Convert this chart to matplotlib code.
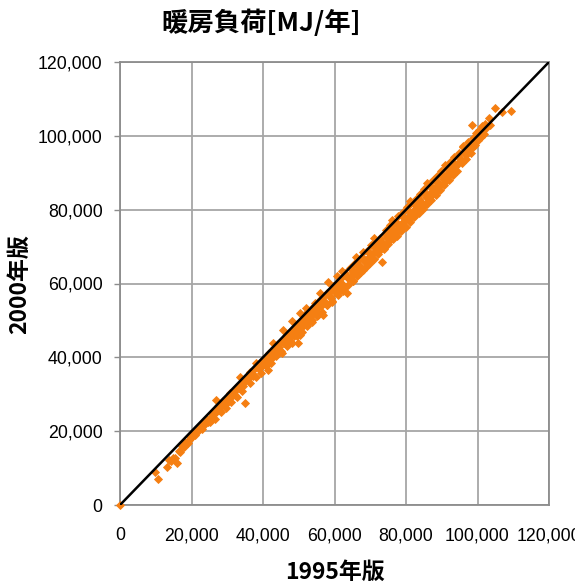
import matplotlib
matplotlib.use("Agg")
import matplotlib.pyplot as plt
from matplotlib.ticker import FuncFormatter, MultipleLocator

# Annual heating load [MJ/year]: 1995 edition (x) vs 2000 edition (y)
load_1995 = [
    0, 9800, 10600, 13100, 13800, 14200, 14800, 15300, 15900, 16400,
    16900, 17400, 17900, 18500, 19000, 19600, 20100, 20600, 21000, 21500,
    21900, 22400, 22800, 23300, 23700, 24200, 24600, 25100, 25500, 26000,
    26800, 26900, 27400, 27800, 28300, 28700, 29200, 29600, 30100, 30500,
    30900, 31400, 31800, 32300, 32700, 33200, 33600, 34100, 34500, 35000,
    35400, 35900, 36300, 36800, 37200, 37700, 38100, 38600, 39000, 39500,
    39900, 40300, 40700, 41100, 41400, 41800, 42200, 42600, 43000, 43400,
    43800, 44200, 44600, 45000, 45600, 45900, 46300, 46700, 47100, 47500,
    48100, 48400, 48800, 49200, 49800, 50000, 50400, 50400, 50800, 51200,
    51600, 52000, 52400, 52800, 53200, 53600, 54000, 54500, 54900, 55300,
    55700, 56100, 56800, 57000, 57400, 57800, 58200, 58500, 58900, 59300,
    59700, 60100, 60700, 61000, 61400, 61800, 62200, 62600, 63000, 63500,
    63900, 64300, 64700, 65100, 65500, 65900, 66300, 66700, 67100, 67500,
    68000, 68300, 68700, 69100, 69500, 69900, 70300, 70700, 71100, 71500,
    71900, 72300, 72700, 73300, 73500, 73900, 74300, 74700, 75100, 75500,
    75900, 76300, 76700, 77100, 77500, 77900, 78300, 78700, 79100, 79500,
    79900, 80300, 80700, 81100, 81500, 81900, 82300, 82700, 83100, 83500,
    83900, 84300, 84700, 85100, 85500, 85900, 86300, 86700, 87100, 87500,
    87900, 88300, 88700, 89100, 89500, 89900, 90300, 90700, 91100, 91500,
    91900, 92300, 92700, 93100, 93500, 93900, 94300, 94700, 95100, 95700,
    96000, 96400, 96800, 97300, 97700, 98100, 98500, 98800, 99200, 99600,
    100000, 100500, 100900, 101300, 101800, 102200, 103200, 104900, 106800, 109400,
    18200, 19300, 20300, 21200, 22100, 23000, 23900, 24800, 25700, 26400,
    27100, 28000, 28900, 29900, 30700, 31600, 32500, 33400, 34300, 35200,
    36100, 37000, 37900, 38800, 39700, 40500, 41300, 42400, 43200, 44000,
    44900, 45800, 46500, 47300, 48200, 49000, 49600, 50600, 51400, 52200,
    53000, 53800, 54700, 55500, 56300, 57200, 58000, 58800, 59500, 60400,
    61200, 62000, 62800, 63700, 64500, 65300, 66100, 66900, 67800, 68500,
    69300, 70100, 70900, 71700, 72500, 73100, 74000, 74900, 75700, 76500,
    77300, 78100, 78900, 79700, 80500, 81300, 82100, 82900, 83700, 84500,
    85300, 86100, 86900, 87700, 88500, 89300, 90100, 90900, 91700, 92500,
    93300, 94100, 94900, 95500, 96200, 97000, 97900, 98700, 99400, 100200,
    101000, 101600, 102500, 103600,
    25300, 26700, 28200, 29600, 31100, 32600, 34000, 36500, 38000, 39400,
    40900, 42300, 43700, 45200, 46600, 48000, 49400, 50900, 52300, 53700,
    55100, 56600, 58000, 59400, 60900, 62300, 63700, 65200, 66600, 68000,
    69500, 70900, 72400, 73800, 75200, 76600, 78000, 79500, 80900, 82400,
    83800, 85200, 86600, 88000, 89500, 90900, 92400, 93800,
    42900, 52000, 56000, 62000, 66000, 71000, 76000, 81000, 86000, 91000,
    95900,
]
load_2000 = [
    0, 8900, 7000, 10300, 12200, 11900, 12700, 12600, 11400, 14600,
    14300, 16000, 15800, 16700, 16900, 18300, 18300, 19100, 18900, 20500,
    20000, 21100, 20500, 22100, 22000, 23400, 22500, 23700, 22900, 25000,
    28400, 25300, 26700, 25600, 27000, 28300, 27300, 28600, 27900, 29000,
    30300, 29400, 30700, 29700, 31900, 31600, 34700, 32800, 32300, 27600,
    34500, 34100, 35900, 35400, 34900, 37000, 38500, 37000, 38000, 37500,
    39400, 38200, 40200, 39000, 36600, 41300, 40500, 39800, 42600, 41200,
    40900, 43700, 42800, 41600, 47400, 44600, 43500, 46200, 45000, 44300,
    49800, 46900, 45700, 48500, 43900, 47400, 52000, 46000, 49700, 48600,
    51400, 50200, 48900, 52300, 50900, 50000, 53600, 54700, 52600, 51600,
    55200, 53800, 51500, 56600, 55000, 54300, 60400, 57800, 56200, 55300,
    59400, 57800, 62000, 59800, 58300, 61600, 60000, 58900, 62800, 57400,
    61500, 64200, 62100, 60800, 65300, 63400, 62000, 66500, 64800, 63200,
    68500, 66000, 64500, 68800, 67000, 65600, 70400, 68300, 66700, 71600,
    69700, 67900, 72300, 65800, 70900, 69400, 74500, 72200, 70700, 75800,
    73600, 72000, 76400, 74600, 73000, 78200, 75800, 74300, 79300, 77000,
    75400, 80700, 78300, 76600, 81900, 79600, 77900, 82900, 80700, 79000,
    84300, 82100, 80300, 85600, 83300, 81400, 86700, 84500, 82700, 88000,
    85800, 84000, 89000, 86900, 85300, 90500, 88200, 86600, 91600, 89700,
    88000, 92900, 91000, 89300, 94300, 92200, 90600, 95300, 93300, 92600,
    97100, 95000, 93800, 98300, 96300, 95400, 102900, 99400, 97500, 100800,
    98900, 101500, 99700, 102600, 100500, 103300, 104800, 107500, 106400, 106700,
    17000, 17600, 19500, 19800, 21200, 21600, 23100, 23300, 24900, 24600,
    26200, 26600, 28100, 28600, 29700, 30100, 31700, 32000, 33600, 33800,
    35300, 35500, 37200, 37400, 38900, 39100, 40600, 41000, 42300, 42200,
    44200, 44000, 45700, 45400, 47500, 47200, 49100, 48700, 50700, 50300,
    52300, 51800, 54000, 53500, 55700, 55100, 57400, 56700, 58900, 58300,
    60600, 59800, 62200, 61500, 63900, 63000, 65500, 64600, 67200, 66200,
    68700, 67800, 70300, 69300, 71900, 70700, 73400, 72400, 75100, 74000,
    76700, 75500, 78300, 77100, 79800, 78700, 81400, 80300, 83000, 81900,
    84600, 83500, 86200, 85100, 87800, 86800, 89400, 88500, 91000, 90200,
    92600, 91900, 94300, 93500, 95700, 95200, 97500, 97100, 99000, 98800,
    100700, 100400, 102200, 103000,
    22400, 23300, 25300, 26300, 28000, 29200, 30900, 33100, 34700, 35700,
    37600, 38500, 40300, 41200, 43100, 43900, 45800, 46800, 48600, 49500,
    51300, 52300, 54100, 55100, 56900, 57900, 59700, 60800, 62700, 63700,
    65700, 66700, 68700, 69700, 71600, 72600, 74500, 75600, 77500, 78600,
    80500, 81500, 83500, 84500, 86600, 87600, 89700, 90800,
    44000, 53300, 57300, 63300, 67200, 72200, 77200, 82300, 87300, 92100,
    97200,
]
axis_max = 120000
axis_step = 20000

fig = plt.figure(figsize=(5.75, 5.83), dpi=100)
ax = fig.add_axes([120 / 575, 1 - 505 / 583, 429 / 575, 443 / 583])

grid_color = "#a6a6a6"
ax.set_xlim(0, axis_max)
ax.set_ylim(0, axis_max)
ax.xaxis.set_major_locator(MultipleLocator(axis_step))
ax.yaxis.set_major_locator(MultipleLocator(axis_step))
ax.grid(True, color=grid_color, linewidth=1.3)
ax.set_axisbelow(True)
for side in ax.spines.values():
    side.set_color("#8c8c8c")
    side.set_linewidth(1.3)

fmt = FuncFormatter(lambda v, _: f"{int(v):,}")
ax.xaxis.set_major_formatter(fmt)
ax.yaxis.set_major_formatter(fmt)
ax.tick_params(axis="both", direction="out", length=4, color="#8c8c8c", width=1)
ax.tick_params(axis="x", pad=16, length=0)
ax.tick_params(axis="y", pad=8.5)
for lab in ax.get_xticklabels() + ax.get_yticklabels():
    lab.set_fontfamily("Liberation Sans")
    lab.set_fontsize(12.8)

ax.plot(load_1995, load_2000, linestyle="none", marker="D", markersize=4.5,
        color="#f57f12", markeredgecolor="#f57f12", markeredgewidth=0.6,
        clip_on=False, zorder=3)
ax.plot([0, axis_max], [0, axis_max], color="black", linewidth=1.8, zorder=4)

jp = ["Noto Sans CJK JP", "DejaVu Sans"]
fig.text(261 / 575, 1 - 23 / 583, "暖房負荷[MJ/年]", family=jp, fontsize=19,
         fontweight="bold", ha="center", va="center")
fig.text(335 / 575, 1 - 572 / 583, "1995年版", family=jp, fontsize=16.5,
         fontweight="bold", ha="center", va="center")
fig.text(20 / 575, 1 - 284 / 583, "2000年版", family=jp, fontsize=16.5,
         fontweight="bold", ha="center", va="center", rotation=90)

fig.savefig("out.png", dpi=100)
